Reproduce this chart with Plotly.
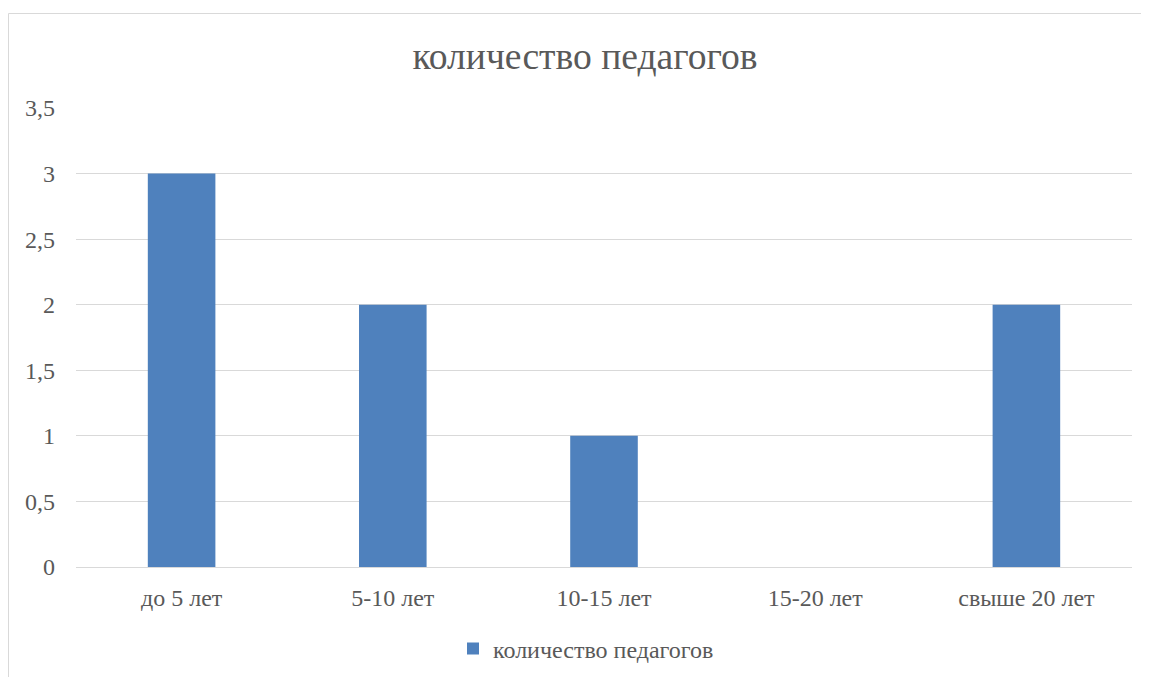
import plotly.graph_objects as go

categories = ["до 5 лет", "5-10 лет", "10-15 лет", "15-20 лет", "свыше 20 лет"]
values = [3, 2, 1, 0, 2]
series_name = "количество педагогов"
title_text = "количество педагогов"
y_ticks = [0, 0.5, 1, 1.5, 2, 2.5, 3, 3.5]

# page body has an 8px offset; figure coordinates = screen - 8
OFF = 8
W, H = 1149, 677
L, T = 76 - OFF, 108 - OFF
R = W - (1132 - OFF)
B = H - (567 - OFF)
pw, ph = W - L - R, H - T - B

def px_x(p):
    return (p - OFF - L) / pw

def px_y(p):
    return (H - B - (p - OFF)) / ph

FONT = "Liberation Serif, Times New Roman, serif"
GREY = "#595959"

fig = go.Figure()
fig.add_trace(go.Bar(
    x=categories, y=values, name=series_name,
    marker=dict(color="#4F81BD", line=dict(width=0)),
    width=0.32,
))

fig.update_layout(
    width=W, height=H,
    margin=dict(l=L, r=R, t=T, b=B, autoexpand=False),
    paper_bgcolor="white", plot_bgcolor="white",
    separators=", ",
    font=dict(family=FONT, color=GREY, size=24),
    title=dict(text=title_text, x=px_x(585), xanchor="center", xref="paper",
               y=1 - (56 - OFF) / H, yanchor="middle", yref="container",
               font=dict(family=FONT, size=37.6, color=GREY)),
    showlegend=True,
    legend=dict(orientation="h", x=px_x(453), xanchor="left", y=px_y(649), yanchor="middle",
                font=dict(family=FONT, size=24, color=GREY),
                itemwidth=30, bgcolor="rgba(0,0,0,0)"),
)
fig.update_xaxes(showgrid=False, showline=True, linecolor="#D9D9D9", linewidth=1,
                 ticks="", tickfont=dict(family=FONT, size=24, color=GREY),
                 ticklabelstandoff=9, fixedrange=True)
fig.update_yaxes(range=[0, 3.5], tickvals=y_ticks, showgrid=True, gridcolor="#D9D9D9",
                 gridwidth=1, zeroline=False, showline=False, ticks="",
                 tickfont=dict(family=FONT, size=24, color=GREY),
                 ticklabelstandoff=20, fixedrange=True)

fig.add_shape(type="rect", xref="paper", yref="paper",
              x0=px_x(8.5), x1=px_x(1190), y0=px_y(720), y1=px_y(13.5),
              line=dict(color="#D9D9D9", width=1), fillcolor="rgba(0,0,0,0)", layer="below")

fig.write_html("out.html", config={"displayModeBar": False})
